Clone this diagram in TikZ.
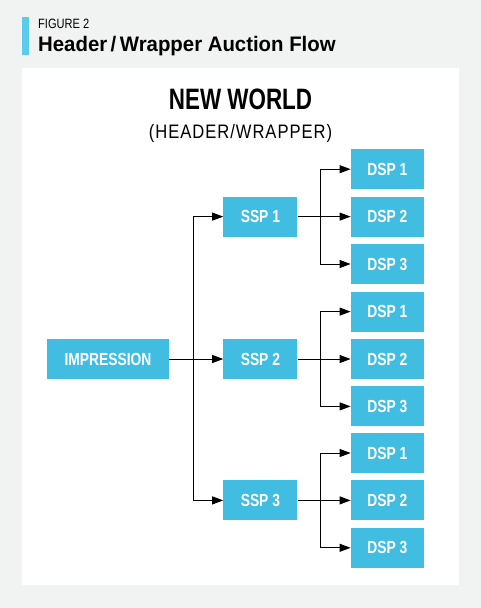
\documentclass[tikz,border=0pt]{standalone}
\usepackage{fontspec}
\setmainfont{Liberation Sans}[FakeStretch=0.79]
\newfontfamily\headfont{Liberation Sans}[FakeStretch=0.97]
\newfontfamily\figfont{Liberation Sans}[FakeStretch=0.82]
\newfontfamily\worldfont{Liberation Sans}[FakeStretch=0.76]
\newfontfamily\subfont{Liberation Sans}[FakeStretch=0.85,LetterSpace=5]
\usepackage{xcolor}
\usetikzlibrary{arrows.meta,positioning}
\definecolor{pagegray}{HTML}{F1F2F2}
\definecolor{boxblue}{HTML}{42BDE2}
\definecolor{barblue}{HTML}{5BCBEB}

\begin{document}
\begin{tikzpicture}[x=1pt,y=1pt,>={Triangle[length=11pt,width=8pt]}]
\tikzstyle{box}=[fill=boxblue,text=white,minimum height=40pt,inner sep=0pt,font=\bfseries\fontsize{17.5}{20}\selectfont]
\tikzstyle{link}=[->,line width=0.9pt]
% page and panel
\fill[pagegray] (0,0) rectangle (481,-608);
\useasboundingbox (0,0) rectangle (481,-608);
\fill[white] (22,-68) rectangle (459,-585);
\fill[barblue] (22,-17) rectangle (29,-55);
% titles
\node[anchor=base west,inner sep=0pt,font=\figfont\fontsize{13.5}{15}\selectfont] (fig) at (38,-28.5) {FIGURE 2};
\node[anchor=base west,inner sep=0pt,font=\headfont\bfseries\fontsize{21}{24}\selectfont] (title) at (38,-51) {Header\,/\,Wrapper Auction Flow};
\node[anchor=base,inner sep=0pt,font=\worldfont\bfseries\fontsize{29.5}{32}\selectfont] (world) at (240.5,-109) {NEW WORLD};
\node[anchor=base,inner sep=0pt,font=\subfont\fontsize{19.5}{22}\selectfont] (sub) at (240.5,-138.5) {(HEADER/WRAPPER)};
% nodes
\node[box,minimum width=122pt] (imp) at (108,-359) {IMPRESSION};
\node[box,minimum width=74pt,right=54pt of imp] (ssp2) {SSP 2};
\node[box,minimum width=74pt,above=102pt of ssp2] (ssp1) {SSP 1};
\node[box,minimum width=74pt,below=101pt of ssp2] (ssp3) {SSP 3};
\node[box,minimum width=73pt,right=53pt of ssp1] (dsp12) {DSP 2};
\node[box,minimum width=73pt,above=7pt of dsp12] (dsp11) {DSP 1};
\node[box,minimum width=73pt,below=7pt of dsp12] (dsp13) {DSP 3};
\node[box,minimum width=73pt,right=53pt of ssp2] (dsp22) {DSP 2};
\node[box,minimum width=73pt,above=7pt of dsp22] (dsp21) {DSP 1};
\node[box,minimum width=73pt,below=7pt of dsp22] (dsp23) {DSP 3};
\node[box,minimum width=73pt,right=53pt of ssp3] (dsp32) {DSP 2};
\node[box,minimum width=73pt,above=7pt of dsp32] (dsp31) {DSP 1};
\node[box,minimum width=73pt,below=7pt of dsp32] (dsp33) {DSP 3};
% split points
\coordinate[right=24pt of imp.east] (split);
\coordinate[right=23pt of ssp1.east] (split1);
\coordinate[right=23pt of ssp2.east] (split2);
\coordinate[right=23pt of ssp3.east] (split3);
% connectors
\draw[link] (imp.east)--(ssp2.west);
\draw[link] (split)|-(ssp1.west);
\draw[link] (split)|-(ssp3.west);
\draw[link] (ssp1.east)--(dsp12.west);
\draw[link] (split1)|-(dsp11.west);
\draw[link] (split1)|-(dsp13.west);
\draw[link] (ssp2.east)--(dsp22.west);
\draw[link] (split2)|-(dsp21.west);
\draw[link] (split2)|-(dsp23.west);
\draw[link] (ssp3.east)--(dsp32.west);
\draw[link] (split3)|-(dsp31.west);
\draw[link] (split3)|-(dsp33.west);
\end{tikzpicture}
\end{document}
